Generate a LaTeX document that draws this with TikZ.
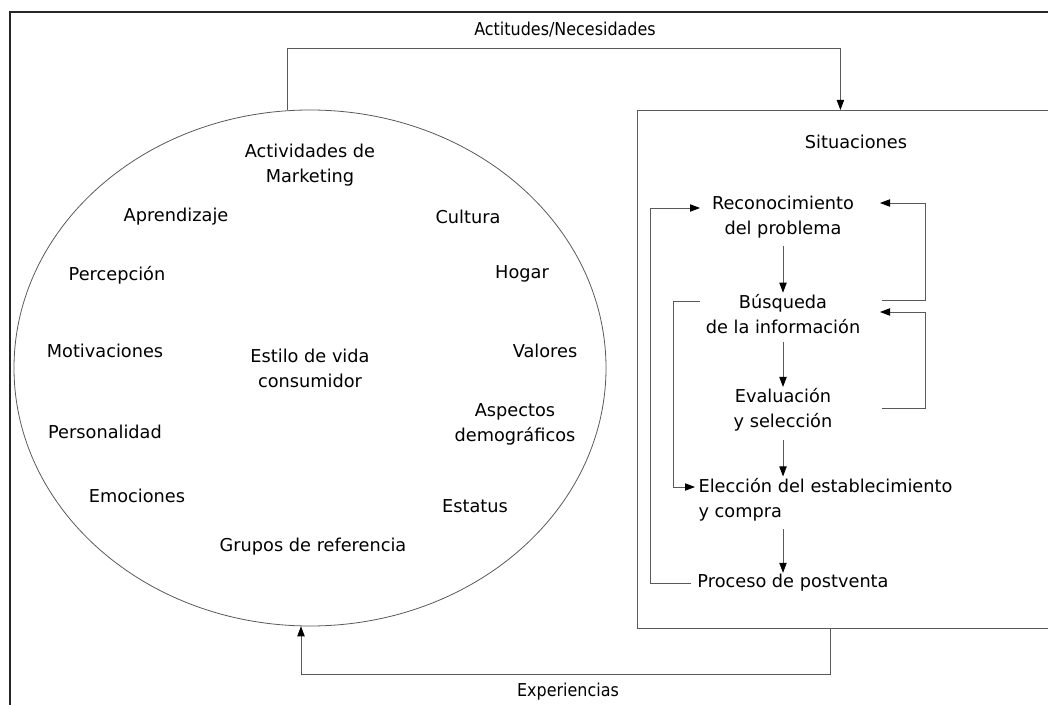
\documentclass[tikz,border=0pt]{standalone}
\usepackage{fontspec}
\setmainfont{DejaVu Sans}
\newfontfamily\narrowfont{DejaVu Sans}[FakeStretch=0.9]
\usetikzlibrary{arrows.meta,shapes.geometric}

\begin{document}
\begin{tikzpicture}[x=0.75pt,y=-0.75pt,
  lbl/.style={align=center,inner sep=1pt,font=\fontsize{13.3}{18.75}\selectfont},
  flow/.style={draw=black!65,line width=0.6pt,-{Triangle[length=7.5pt,width=5.5pt,black]}},
  outline/.style={draw=black!65,line width=0.6pt,inner sep=0pt}]
\useasboundingbox (0,0) rectangle (1048,705);
\clip (0,0) rectangle (1048,705);
\draw[line width=1.3pt,black!85] (10,705) -- (10,12) -- (1048,12);
\node[lbl,font=\narrowfont\fontsize{13.3}{18.75}\selectfont] (act) at (565,30) {Actitudes/Necesidades};
\node[lbl,font=\narrowfont\fontsize{13.3}{18.75}\selectfont] (exp) at (568,692) {Experiencias};
\node[outline,ellipse,minimum width=444pt,minimum height=387pt] (ell) at (310,368) {};
\node[outline,rectangle,anchor=north west,minimum width=322.5pt,minimum height=388.5pt] (box) at (637,110) {};
\node[lbl] (actmk) at (310,165.5) {Actividades de\\Marketing};
\node[lbl] (apr) at (176,217) {Aprendizaje};
\node[lbl] (cul) at (468,217) {Cultura};
\node[lbl] (per) at (117,275) {Percepción};
\node[lbl] (hog) at (522,274) {Hogar};
\node[lbl] (mot) at (105,351) {Motivaciones};
\node[lbl] (estilo) at (310,368.5) {Estilo de vida\\consumidor};
\node[lbl] (val) at (545,351) {Valores};
\node[lbl] (asp) at (515,424.5) {Aspectos\\demográficos};
\node[lbl] (pers) at (105,432) {Personalidad};
\node[lbl] (emo) at (137,496) {Emociones};
\node[lbl] (stat) at (475,506) {Estatus};
\node[lbl] (grp) at (313,547) {Grupos de referencia};
\node[lbl] (sit) at (856,142) {Situaciones};
\node[lbl] (rec) at (783,217) {Reconocimiento\\del problema};
\node[lbl] (bus) at (783,314) {Búsqueda\\de la información};
\node[lbl] (eva) at (783,410) {Evaluación\\y selección};
\node[lbl,align=left,anchor=west] (ele) at (697,499.5) {Elección del establecimiento\\y compra};
\node[lbl] (pos) at (793,583) {Proceso de postventa};
\coordinate (recin) at (700,208);
\coordinate (busout) at (700,301);
\coordinate (elein) at (695,487);
\coordinate (busr) at (882,300);
\coordinate (recr) at (880,203);
\coordinate (evar) at (882,408);
\coordinate (busin) at (880,312);
\draw[flow] (ell.95) -- ++(0,-62) -| ([xshift=-9pt]box.north);
\draw[flow] ([xshift=-16.5pt]box.south) -- ++(0,46) -| (ell.268);
\draw[flow,shorten <=5pt] (rec) -- (bus);
\draw[flow,shorten <=5pt] (bus) -- (eva);
\draw[flow,shorten <=5pt] (eva) -- (eva |- ele.north);
\draw[flow,shorten <=5pt] (eva |- ele.south) -- (eva |- pos.north);
\draw[flow] ([xshift=-4pt]pos.west) -- ++(-40,0) |- (recin);
\draw[flow] (busout) -- ++(-27,0) |- (elein);
\draw[flow] (busr) -- ++(43,0) |- (recr);
\draw[flow] (evar) -- ++(43,0) |- (busin);
\end{tikzpicture}
\end{document}
